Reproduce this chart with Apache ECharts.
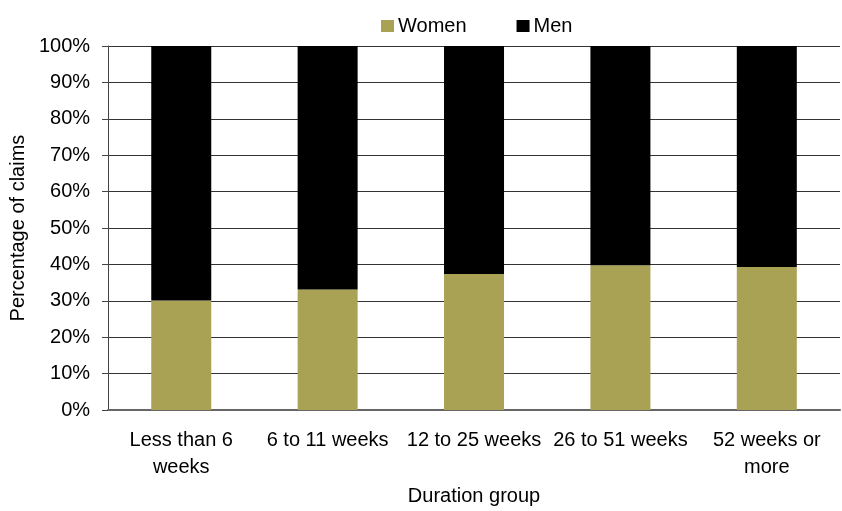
<!DOCTYPE html>
<html>
<head>
<meta charset="utf-8">
<script src="https://cdn.jsdelivr.net/npm/echarts@6/dist/echarts.min.js"></script>
<style>
  html, body { margin: 0; padding: 0; background: #fff; }
  #chart { width: 842px; height: 511px; }
</style>
</head>
<body>
<div id="chart"></div>
<script>
// Share of claims by duration group, split by sex (percent)
const categories = ['Less than 6\nweeks', '6 to 11 weeks', '12 to 25 weeks', '26 to 51 weeks', '52 weeks or\nmore'];
const women = [30.1, 33.1, 37.4, 39.8, 39.3];
const men = women.map(v => +(100 - v).toFixed(1));
const yTicks = { min: 0, max: 100, step: 10 };

const font = 'Liberation Sans, Arial, sans-serif';
const chart = echarts.init(document.getElementById('chart'), null, { renderer: 'canvas' });

chart.setOption({
  animation: false,
  textStyle: { fontFamily: font },
  legend: {
    top: 11,
    left: 376,
    itemWidth: 13,
    itemHeight: 12,
    itemGap: 50,
    textStyle: { fontSize: 20, color: '#000', fontFamily: font, padding: [0, 0, 0, -1] },
    data: [
      { name: 'Women', icon: 'rect' },
      { name: 'Men', icon: 'rect' }
    ]
  },
  grid: { left: 103, right: 2, top: 46, bottom: 93, containLabel: false },
  xAxis: {
    type: 'category',
    data: categories,
    name: 'Duration group',
    nameLocation: 'middle',
    nameGap: 73,
    nameTextStyle: { fontSize: 20, color: '#000', fontFamily: font },
    axisLine: { lineStyle: { color: '#666', width: 2 } },
    axisTick: { show: false },
    axisLabel: { fontSize: 20, color: '#000', fontFamily: font, margin: 17, lineHeight: 27, interval: 0 }
  },
  yAxis: {
    type: 'value',
    min: yTicks.min,
    max: yTicks.max,
    interval: yTicks.step,
    name: 'Percentage of claims',
    nameLocation: 'middle',
    nameGap: 70,
    nameRotate: 90,
    nameTextStyle: { fontSize: 20, color: '#000', fontFamily: font },
    axisLine: { show: true, lineStyle: { color: '#444', width: 1 } },
    axisTick: { show: true, inside: false, length: 6, lineStyle: { color: '#444' } },
    axisLabel: { fontSize: 20, color: '#000', fontFamily: font, margin: 18, formatter: '{value}%' },
    splitLine: { show: true, lineStyle: { color: '#333', width: 1 } }
  },
  series: [
    {
      name: 'Women',
      type: 'bar',
      stack: 'total',
      barWidth: 60,
      itemStyle: { color: '#a9a255' },
      data: women
    },
    {
      name: 'Men',
      type: 'bar',
      stack: 'total',
      barWidth: 60,
      itemStyle: { color: '#000000' },
      data: men
    }
  ]
});
</script>
</body>
</html>
